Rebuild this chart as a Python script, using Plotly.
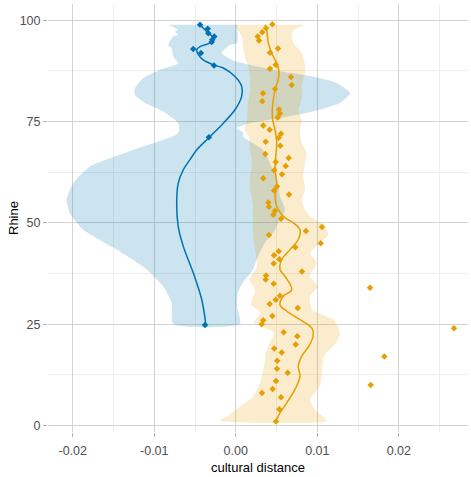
import plotly.graph_objects as go

# ---- Blue series (points) ----
blue_pts_y = [98.9, 97.9, 96.8, 96.0, 95.2, 94.6, 92.9, 91.9, 88.8, 71.1, 24.8]
blue_pts_x = [-0.00439, -0.00345, -0.00337, -0.00264, -0.00289, -0.00296,
              -0.00522, -0.00428, -0.00267, -0.00330, -0.00378]

# ---- Blue smooth line ----
blue_fit_y = [25.1, 31.1, 37.6, 44.2, 49.1, 54.9, 59.8, 63.1, 65.6, 68.0, 71.1, 74.6,
              77.9, 81.2, 83.7, 86.1, 88.2, 89.0, 90.2, 91.5, 92.7, 93.5, 94.4, 95.6,
              97.2, 98.9]
blue_fit_x = [-0.00369, -0.00418, -0.00521, -0.00644, -0.00706, -0.00725, -0.00706,
              -0.00644, -0.00562, -0.00480, -0.00325, -0.00153, -0.00010, 0.00072,
              0.00072, -0.00010, -0.00153, -0.00276, -0.00399, -0.00460, -0.00480,
              -0.00439, -0.00317, -0.00276, -0.00357, -0.00439]

# ---- Blue band: lower (left) edge, top to bottom ----
blue_lo_y = [98.9, 97.6, 97.2, 96.4, 96.0, 93.9, 93.1, 91.0, 89.4, 87.8, 85.7, 83.3,
             81.6, 79.6, 77.5, 74.6, 72.2, 70.5, 68.0, 63.9, 59.8, 55.7, 52.4, 48.3,
             43.4, 38.5, 34.3, 30.3, 25.1]
blue_lo_x = [-0.00828, -0.00706, -0.00746, -0.00706, -0.00767, -0.00828, -0.00787,
             -0.00767, -0.00706, -0.00930, -0.01135, -0.01237, -0.01237, -0.01114,
             -0.00890, -0.00706, -0.00706, -0.00890, -0.01258, -0.01789, -0.01994,
             -0.02075, -0.02034, -0.01871, -0.01461, -0.01093, -0.00890, -0.00787,
             -0.00767]
# ---- Blue band: upper (right) edge, top to bottom ----
blue_hi_y = [98.9, 94.4, 93.9, 91.9, 90.2, 89.0, 87.4, 86.1, 84.5, 82.0, 79.6, 77.5,
             75.9, 74.6, 73.4, 72.2, 71.3, 68.0, 63.1, 59.9, 56.5, 53.3, 50.8, 48.3,
             45.1, 41.7, 38.5, 35.3, 32.8, 29.3, 25.1]
blue_hi_x = [0.00015, 0.00015, -0.00071, -0.00173, -0.00050, 0.00174, 0.00542,
             0.00947, 0.01238, 0.01401, 0.01278, 0.00947, 0.00542, 0.00174, 0.00011,
             0.00092, 0.00088, 0.00334, 0.00456, 0.00518, 0.00542, 0.00603, 0.00542,
             0.00481, 0.00358, 0.00272, 0.00211, 0.00088, 0.00027, 0.00015, 0.00052]

# ---- Orange series (points) ----
orange_pts_y = [99, 98, 97, 96, 95, 93, 92, 89, 88, 86, 84, 83, 82, 80, 78, 77, 76, 74,
                73, 72, 71, 70, 69, 67, 66, 65, 64, 63, 62, 61, 59, 58, 57, 55, 54, 53,
                52, 51, 49, 48, 47, 45, 44, 43, 42, 41, 40, 38, 37, 36, 35, 34, 32, 31,
                30, 29, 27, 26, 25, 24, 23, 22, 20, 19, 18, 17, 16, 14, 13, 11, 10, 9,
                8, 7, 4, 1]
orange_pts_x = [0.00448, 0.00371, 0.00325, 0.00269, 0.00285, 0.00518, 0.00420, 0.00490,
                0.00420, 0.00677, 0.00686, 0.00481, 0.00334, 0.00325, 0.00530, 0.00542,
                0.00514, 0.00337, 0.00416, 0.00555, 0.00526, 0.00367, 0.00546, 0.00362,
                0.00649, 0.00490, 0.00612, 0.00472, 0.00567, 0.00337, 0.00506, 0.00469,
                0.00653, 0.00399, 0.00407, 0.00481, 0.00460, 0.00555, 0.01058, 0.00861,
                0.00407, 0.01042, 0.00730, 0.00526, 0.00469, 0.00534, 0.00465, 0.00812,
                0.00371, 0.00367, 0.00465, 0.01647, 0.00542, 0.00490, 0.00416, 0.00760,
                0.00448, 0.00337, 0.00318, 0.02677, 0.00588, 0.00755, 0.00735, 0.00472,
                0.00563, 0.01822, 0.00509, 0.00506, 0.00637, 0.00493, 0.01655, 0.00453,
                0.00321, 0.00555, 0.00534, 0.00493]

# ---- Orange smooth line ----
orange_fit_y = [98.9, 97.6, 94.4, 91.9, 89.4, 87.4, 85.3, 82.8, 80.3, 77.9, 75.4, 72.9,
                69.7, 66.4, 63.1, 59.8, 56.5, 54.1, 51.6, 50.0, 48.3, 45.9, 43.4, 40.9,
                38.5, 36.8, 33.5, 31.9, 29.8, 28.2, 26.1, 24.1, 22.7, 20.0, 17.1, 14.6,
                12.2, 8.9, 5.6, 3.1, 1.2]
orange_fit_x = [0.00358, 0.00379, 0.00399, 0.00440, 0.00502, 0.00530, 0.00521, 0.00481,
                0.00460, 0.00448, 0.00453, 0.00481, 0.00502, 0.00490, 0.00481, 0.00502,
                0.00481, 0.00502, 0.00583, 0.00706, 0.00788, 0.00767, 0.00665, 0.00563,
                0.00542, 0.00604, 0.00686, 0.00583, 0.00542, 0.00625, 0.00788, 0.00931,
                0.00951, 0.00910, 0.00809, 0.00767, 0.00788, 0.00726, 0.00625, 0.00542,
                0.00493]

# ---- Orange band edges, top to bottom ----
orange_lo_y = [98.9, 97.6, 95.9, 93.4, 90.9, 88.9, 86.0, 82.8, 79.6, 75.4, 72.9, 71.2,
               68.0, 64.8, 61.4, 58.2, 54.9, 51.5, 48.3, 43.4, 39.2, 36.0, 33.5, 29.8,
               27.9, 25.4, 22.9, 20.5, 18.0, 14.5, 10.6, 7.1, 4.7, 2.2, 1.2]
orange_lo_x = [-0.00010, 0.00027, 0.00076, 0.00088, 0.00113, 0.00150, 0.00174, 0.00174,
               0.00150, 0.00137, 0.00113, 0.00162, 0.00174, 0.00199, 0.00174, 0.00174,
               0.00211, 0.00211, 0.00211, 0.00236, 0.00260, 0.00162, 0.00236, 0.00187,
               0.00297, 0.00223, 0.00469, 0.00420, 0.00371, 0.00346, 0.00297, 0.00211,
               0.00052, -0.00108, -0.00194]
orange_hi_y = [98.9, 97.6, 96.0, 94.4, 91.9, 89.0, 87.0, 83.7, 80.4, 77.9, 75.4, 72.9,
               69.7, 67.2, 64.8, 61.5, 58.2, 55.7, 53.3, 51.6, 49.6, 47.1, 45.0, 42.6,
               40.1, 36.8, 34.3, 31.9, 28.6, 26.1, 22.9, 20.4, 17.1, 13.8, 9.9, 6.4,
               3.9, 1.2]
orange_hi_x = [0.00849, 0.00706, 0.00686, 0.00706, 0.00809, 0.00849, 0.00849, 0.00809,
               0.00809, 0.00767, 0.00809, 0.00788, 0.00809, 0.00870, 0.00849, 0.00828,
               0.00849, 0.00809, 0.00849, 0.00910, 0.01074, 0.01135, 0.01033, 0.00910,
               0.00993, 0.00910, 0.01012, 0.00910, 0.00935, 0.01196, 0.01279, 0.01229,
               0.01082, 0.01058, 0.01033, 0.00910, 0.00972, 0.01115]

x_ticks = [-0.02, -0.01, 0.0, 0.01, 0.02]
x_tick_labels = ["-0.02", "-0.01", "0.00", "0.01", "0.02"]
y_ticks = [0, 25, 50, 75, 100]
y_tick_labels = ["0", "25", "50", "75", "100"]
x_title = "cultural distance"
y_title = "Rhine"

BLUE = "#0072B2"
ORANGE = "#E69F00"
FONT = "Liberation Sans, Arial, sans-serif"

fig = go.Figure()

def band(lo_x, lo_y, hi_x, hi_y, color):
    xs = list(lo_x) + list(reversed(hi_x))
    ys = list(lo_y) + list(reversed(hi_y))
    return go.Scatter(x=xs, y=ys, fill="toself", fillcolor=color, mode="lines",
                      line=dict(width=0, shape="spline", smoothing=0.6),
                      hoverinfo="skip", showlegend=False)

fig.add_trace(band(blue_lo_x, blue_lo_y, blue_hi_x, blue_hi_y, "rgba(0,114,178,0.2)"))
fig.add_trace(band(orange_lo_x, orange_lo_y, orange_hi_x, orange_hi_y, "rgba(230,159,0,0.2)"))

fig.add_trace(go.Scatter(x=blue_fit_x, y=blue_fit_y, mode="lines",
                         line=dict(color=BLUE, width=1.5, shape="spline"), showlegend=False))
fig.add_trace(go.Scatter(x=orange_fit_x, y=orange_fit_y, mode="lines",
                         line=dict(color=ORANGE, width=1.5, shape="spline"), showlegend=False))

fig.add_trace(go.Scatter(x=blue_pts_x, y=blue_pts_y, mode="markers",
                         marker=dict(color=BLUE, size=5, symbol="diamond"), showlegend=False))
fig.add_trace(go.Scatter(x=orange_pts_x, y=orange_pts_y, mode="markers",
                         marker=dict(color=ORANGE, size=5, symbol="diamond"), showlegend=False))

axis_common = dict(
    showline=False, zeroline=False, automargin=False,
    gridcolor="#d3d3d3", gridwidth=1,
    ticks="outside", ticklen=4, tickcolor="#b3b3b3", tickwidth=1,
    tickfont=dict(family=FONT, size=12.5, color="#4d4d4d"),
)

fig.update_layout(
    width=471, height=477,
    margin=dict(l=48, r=3, t=4, b=45),
    plot_bgcolor="white", paper_bgcolor="white",
    font=dict(family=FONT, size=13, color="black"),
    xaxis=dict(range=[-0.02304, 0.02849], tickvals=x_ticks, ticktext=x_tick_labels,
               ticklabelstandoff=3, **axis_common),
    yaxis=dict(range=[-1.6, 104.0], tickvals=y_ticks, ticktext=y_tick_labels,
               **axis_common),
    annotations=[
        dict(text=x_title, xref="paper", yref="paper", x=0.5, y=0, yshift=-35,
             xanchor="center", yanchor="middle", showarrow=False,
             font=dict(family=FONT, size=13, color="black")),
        dict(text=y_title, xref="paper", yref="paper", x=0, y=0.5, xshift=-35,
             xanchor="center", yanchor="middle", textangle=-90, showarrow=False,
             font=dict(family=FONT, size=13, color="black")),
    ],
)
fig.update_xaxes(minor=dict(tickvals=[-0.015, -0.005, 0.005, 0.015, 0.025], ticks="",
                            showgrid=True, gridcolor="#eeeeee", gridwidth=1))
fig.update_yaxes(minor=dict(tickvals=[12.5, 37.5, 62.5, 87.5], ticks="",
                            showgrid=True, gridcolor="#eeeeee", gridwidth=1))

fig.write_html("out.html", config={"displayModeBar": False},
               post_script="document.body.style.margin='0';document.body.style.overflow='hidden';")
